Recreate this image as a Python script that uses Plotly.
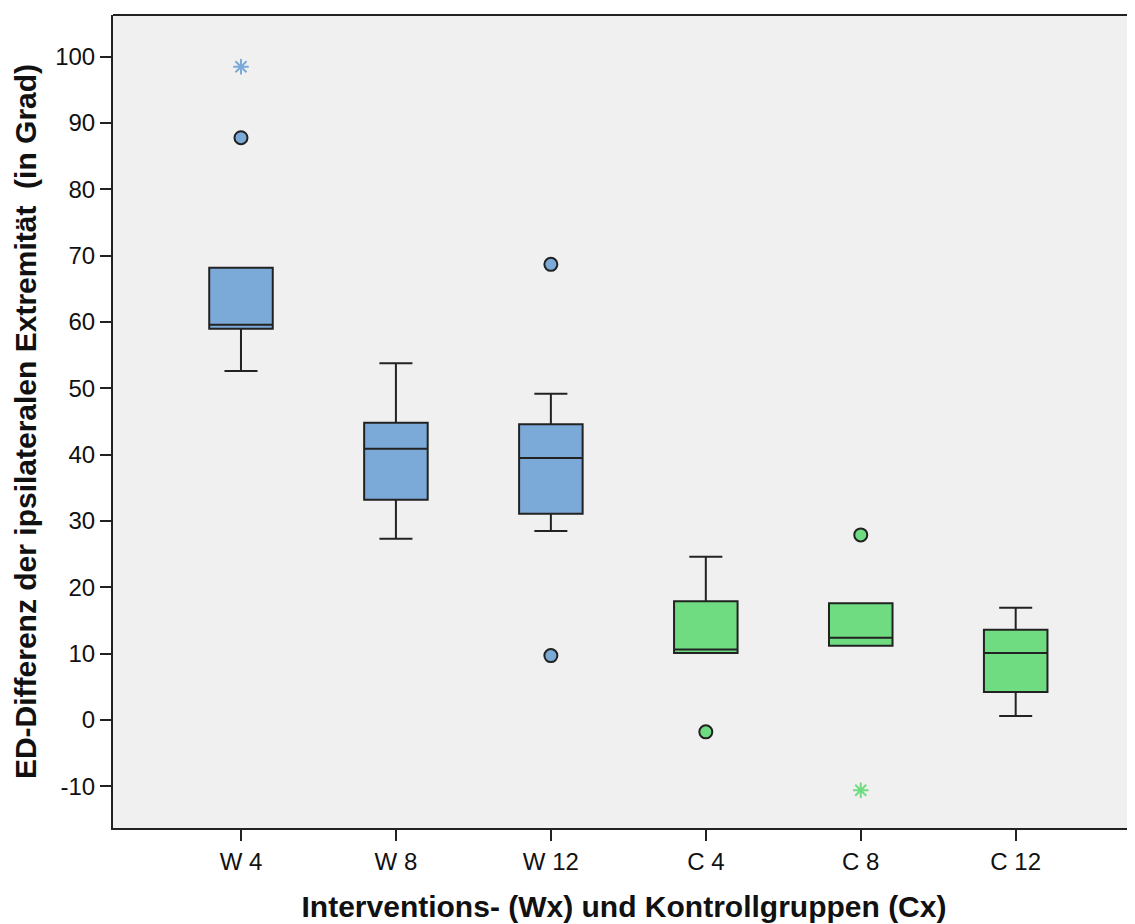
import plotly.graph_objects as go

categories_w = ["W 4", "W 8", "W 12"]
categories_c = ["C 4", "C 8", "C 12"]
all_categories = categories_w + categories_c

# Box statistics (lower whisker, Q1, median, Q3, upper whisker)
w_lower = [52.6, 27.3, 28.5]
w_q1 = [59.0, 33.2, 31.1]
w_median = [59.6, 40.9, 39.5]
w_q3 = [68.2, 44.8, 44.6]
w_upper = [68.2, 53.8, 49.2]

c_lower = [10.1, 11.2, 0.6]
c_q1 = [10.1, 11.2, 4.2]
c_median = [10.6, 12.4, 10.1]
c_q3 = [17.9, 17.6, 13.6]
c_upper = [24.6, 17.6, 16.9]

# Outliers (circles) and extreme values (stars)
w_out_x = ["W 4", "W 12", "W 12"]
w_out_y = [87.8, 68.7, 9.7]
w_ext_x = ["W 4"]
w_ext_y = [98.5]

c_out_x = ["C 4", "C 8"]
c_out_y = [-1.8, 27.9]
c_ext_x = ["C 8"]
c_ext_y = [-10.6]

y_ticks = [-10, 0, 10, 20, 30, 40, 50, 60, 70, 80, 90, 100]

BLUE = "#7BAAD8"
GREEN = "#70DC82"
EDGE = "#222222"
FONT = "Liberation Sans, Arial, sans-serif"

fig = go.Figure()

fig.add_trace(go.Box(
    x=categories_w, q1=w_q1, median=w_median, q3=w_q3,
    lowerfence=w_lower, upperfence=w_upper,
    fillcolor=BLUE, line=dict(color=EDGE, width=2),
    width=0.41, whiskerwidth=0.52, boxpoints=False, showlegend=False,
    hoverinfo="skip"))
fig.add_trace(go.Box(
    x=categories_c, q1=c_q1, median=c_median, q3=c_q3,
    lowerfence=c_lower, upperfence=c_upper,
    fillcolor=GREEN, line=dict(color=EDGE, width=2),
    width=0.41, whiskerwidth=0.52, boxpoints=False, showlegend=False,
    hoverinfo="skip"))

fig.add_trace(go.Scatter(
    x=w_out_x, y=w_out_y, mode="markers", showlegend=False,
    marker=dict(symbol="circle", size=13, color=BLUE, line=dict(color=EDGE, width=2))))
fig.add_trace(go.Scatter(
    x=c_out_x, y=c_out_y, mode="markers", showlegend=False,
    marker=dict(symbol="circle", size=13, color=GREEN, line=dict(color=EDGE, width=2))))
fig.add_trace(go.Scatter(
    x=w_ext_x, y=w_ext_y, mode="markers", showlegend=False,
    marker=dict(symbol="asterisk-open", size=13, color=BLUE, line=dict(color=BLUE, width=2))))
fig.add_trace(go.Scatter(
    x=c_ext_x, y=c_ext_y, mode="markers", showlegend=False,
    marker=dict(symbol="asterisk-open", size=13, color=GREEN, line=dict(color=GREEN, width=2))))

fig.update_layout(
    width=1127, height=916,
    margin=dict(l=105, r=0, t=7, b=96),
    paper_bgcolor="white", plot_bgcolor="#F0F0F0",
    boxmode="overlay",
    font=dict(family=FONT, size=24, color="#111111"),
    xaxis=dict(
        type="category", categoryorder="array", categoryarray=all_categories,
        range=[-0.826, 5.77], showgrid=False, zeroline=False,
        showline=True, linecolor="#222222", linewidth=2, mirror=False,
        ticks="outside", ticklen=11, tickwidth=2, tickcolor="#222222",
        tickfont=dict(family=FONT, size=24, color="#111111"),
        title=dict(text="<b>Interventions- (Wx) und Kontrollgruppen (Cx)</b>",
                   font=dict(family=FONT, size=30, color="#111111"), standoff=22),
    ),
    yaxis=dict(
        range=[-16.3, 106.3], tickvals=y_ticks, ticktext=[str(v) for v in y_ticks],
        showgrid=False, zeroline=False,
        showline=True, linecolor="#222222", linewidth=2,
        ticks="outside", ticklen=11, tickwidth=2, tickcolor="#222222",
        tickfont=dict(family=FONT, size=24, color="#111111"),
        title=dict(text="<b>ED-Differenz der ipsilateralen Extremität  (in Grad)</b>",
                   font=dict(family=FONT, size=30, color="#111111"), standoff=10),
    ),
    shapes=[dict(type="line", xref="paper", yref="paper", x0=0, x1=1, y0=1, y1=1,
                 line=dict(color="#222222", width=2))],
)

fig.write_html("out.html")
